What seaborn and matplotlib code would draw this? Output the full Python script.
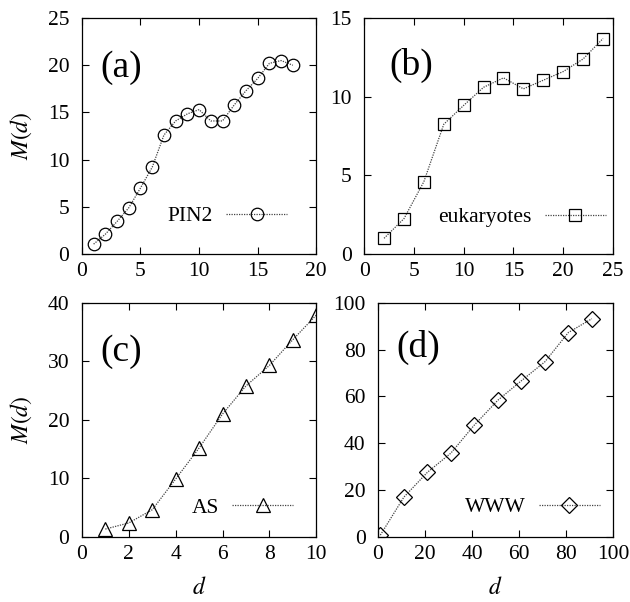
import seaborn as sns
import matplotlib
matplotlib.use("Agg")
import matplotlib.pyplot as plt

# panel data
d_pin = [1, 2, 3, 4, 5, 6, 7, 8, 9, 10, 11, 12, 13, 14, 15, 16, 17, 18]
m_pin = [1.05, 2.1, 3.45, 4.9, 7.0, 9.2, 12.6, 14.1, 14.85, 15.3, 14.1, 14.1,
         15.8, 17.3, 18.6, 20.2, 20.5, 20.0]

d_euk = [2, 4, 6, 8, 10, 12, 14, 16, 18, 20, 22, 24]
m_euk = [1.0, 2.25, 4.6, 8.25, 9.45, 10.6, 11.2, 10.5, 11.05, 11.6, 12.4, 13.7]

d_as = [1, 2, 3, 4, 5, 6, 7, 8, 9, 10]
m_as = [1.35, 2.4, 4.65, 9.9, 15.2, 21.0, 25.8, 29.3, 33.7, 37.9]

d_www = [1, 11, 21, 31, 41, 51, 61, 71, 81, 91]
m_www = [0.8, 17.0, 27.6, 35.8, 47.8, 58.4, 66.7, 74.8, 87.3, 93.2]

sns.set_style("ticks")
plt.rcParams["font.family"] = ["Liberation Serif", "DejaVu Serif"]
plt.rcParams["mathtext.fontset"] = "stix"
plt.rcParams["xtick.direction"] = "in"
plt.rcParams["ytick.direction"] = "in"
plt.rcParams["xtick.top"] = True
plt.rcParams["ytick.right"] = True
for k in ["text.color", "axes.labelcolor", "xtick.color", "ytick.color", "axes.edgecolor"]:
    plt.rcParams[k] = "black"

fig = plt.figure(figsize=(6.3, 6.02), dpi=100)

panels = [
    # rect, x, y, label, marker, size, tag, tag pos, legend anchor, limits, ticks, labels
    ([0.130, 0.578, 0.372, 0.392], d_pin, m_pin, "PIN2", "o", 9, "(a)", (0.077, 0.79),
     (0.876, 0.161), (0, 20), (0, 25), range(0, 21, 5), range(0, 26, 5), False, True),
    ([0.578, 0.578, 0.395, 0.392], d_euk, m_euk, "eukaryotes", "s", 9, "(b)", (0.10, 0.80),
     (0.972, 0.156), (0, 25), (0, 15), range(0, 26, 5), range(0, 16, 5), False, False),
    ([0.130, 0.108, 0.372, 0.389], d_as, m_as, "AS", "^", 10.5, "(c)", (0.077, 0.79),
     (0.902, 0.124), (0, 10), (0, 40), range(0, 11, 2), range(0, 41, 10), True, True),
    ([0.600, 0.108, 0.373, 0.389], d_www, m_www, "WWW", "D", 8.5, "(d)", (0.077, 0.81),
     (0.945, 0.128), (0, 100), (0, 100), range(0, 101, 20), range(0, 101, 20), True, False),
]

for rect, x, y, lab, mk, ms, tag, tpos, lpos, xl, yl, xt, yt, showx, showy in panels:
    ax = fig.add_axes(rect)
    sns.lineplot(x=x, y=y, ax=ax, label=lab, color="#444444", linestyle=(0, (1, 1)),
                 linewidth=0.9, marker=mk, markersize=ms, markerfacecolor="none",
                 markeredgecolor="black", markeredgewidth=0.9)
    ax.set_xlim(*xl)
    ax.set_ylim(*yl)
    ax.set_xticks(list(xt))
    ax.set_yticks(list(yt))
    ax.tick_params(labelsize=15.5, length=5, width=0.8)
    ax.tick_params(axis="x", pad=6)
    ax.tick_params(axis="y", pad=9)
    for s in ax.spines.values():
        s.set_linewidth(0.9)
    ax.set_xlabel(r"$d$" if showx else "", fontsize=17, labelpad=9)
    ax.set_ylabel(r"$M(d)$" if showy else "", fontsize=17, labelpad=10)
    ax.text(tpos[0], tpos[1], tag, transform=ax.transAxes, fontsize=27,
            ha="left", va="center")
    ax.legend(loc="center right", bbox_to_anchor=lpos, frameon=False,
              markerfirst=False, handlelength=2.85, fontsize=15.5,
              handletextpad=0.6, borderaxespad=0, borderpad=0)

fig.savefig("out.png", dpi=100)
